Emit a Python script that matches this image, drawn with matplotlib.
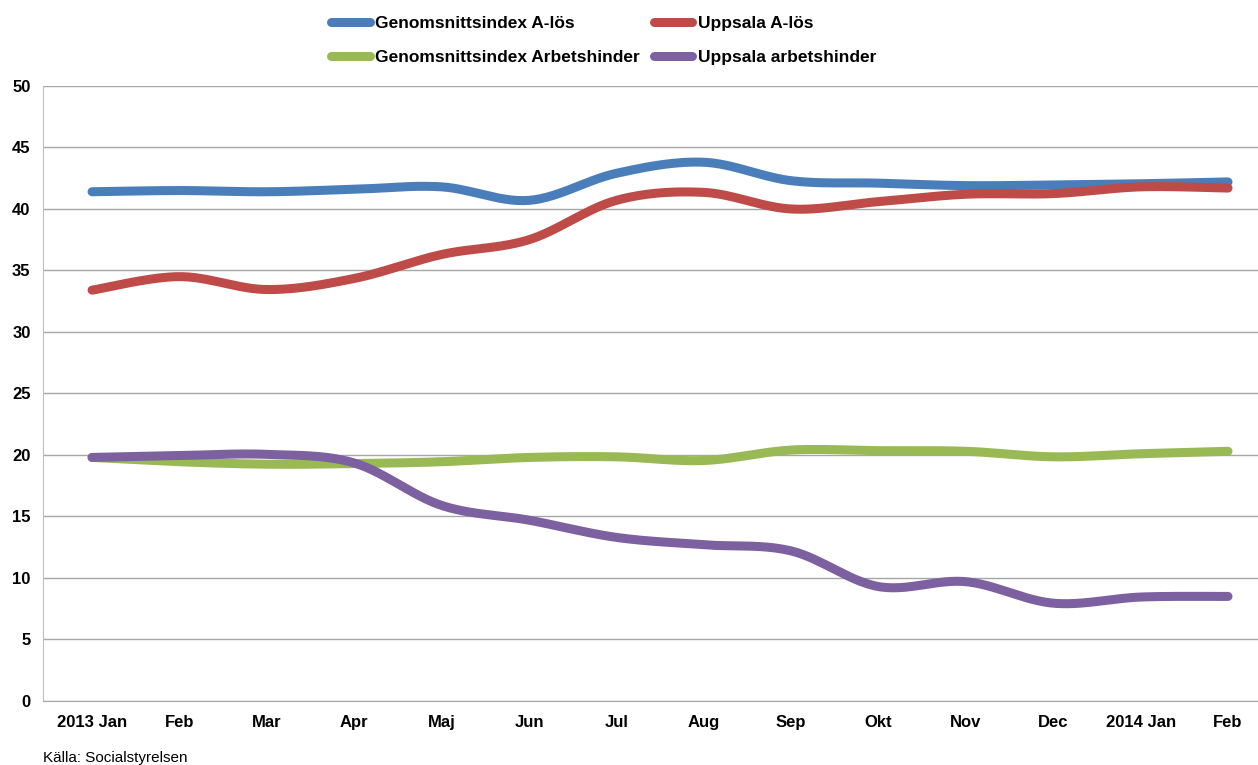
import numpy as np
import matplotlib

matplotlib.use("Agg")
import matplotlib.pyplot as plt
from matplotlib.lines import Line2D

plt.rcParams["font.family"] = ["Liberation Sans Narrow", "Liberation Sans", "DejaVu Sans"]

months = ["2013 Jan", "Feb", "Mar", "Apr", "Maj", "Jun", "Jul", "Aug",
          "Sep", "Okt", "Nov", "Dec", "2014 Jan", "Feb"]

snitt_alos = [41.4, 41.5, 41.4, 41.6, 41.8, 40.7, 42.9, 43.8, 42.3, 42.1, 41.9, 41.95, 42.05, 42.2]
uppsala_alos = [33.4, 34.5, 33.45, 34.35, 36.3, 37.5, 40.7, 41.35, 40.0, 40.6, 41.2, 41.25, 41.8, 41.7]
snitt_arb = [19.8, 19.45, 19.25, 19.3, 19.45, 19.8, 19.85, 19.55, 20.4, 20.35, 20.3, 19.85, 20.1, 20.3]
uppsala_arb = [19.8, 19.95, 20.05, 19.35, 15.9, 14.7, 13.3, 12.7, 12.2, 9.3, 9.7, 7.95, 8.45, 8.5]

series = [
    ("Genomsnittsindex A-lös", snitt_alos, "#4A7EBB"),
    ("Uppsala A-lös", uppsala_alos, "#BE4B48"),
    ("Genomsnittsindex Arbetshinder", snitt_arb, "#98B954"),
    ("Uppsala arbetshinder", uppsala_arb, "#7D60A0"),
]


def smooth(x, y, n=30):
    # Excel-style smoothed line: cubic Bezier with Catmull-Rom control points
    x = np.asarray(x, float)
    y = np.asarray(y, float)
    px = np.concatenate([[x[0]], x, [x[-1]]])
    py = np.concatenate([[y[0]], y, [y[-1]]])
    xs, ys = [], []
    t = np.linspace(0, 1, n)
    for i in range(len(x) - 1):
        p0 = np.array([px[i], py[i]])
        p1 = np.array([px[i + 1], py[i + 1]])
        p2 = np.array([px[i + 2], py[i + 2]])
        p3 = np.array([px[i + 3], py[i + 3]])
        c1 = p1 + (p2 - p0) / 6
        c2 = p2 - (p3 - p1) / 6
        b = (np.outer((1 - t) ** 3, p1) + np.outer(3 * (1 - t) ** 2 * t, c1)
             + np.outer(3 * (1 - t) * t ** 2, c2) + np.outer(t ** 3, p2))
        xs.extend(b[:, 0])
        ys.extend(b[:, 1])
    return xs, ys


fig = plt.figure(figsize=(12.58, 7.65), dpi=100)
ax = fig.add_axes([0.0342, 0.0837, 0.9658, 0.8039])

x = np.arange(len(months))
for label, vals, color in series:
    sx, sy = smooth(x, vals)
    ax.plot(sx, sy, color=color, lw=6.5, solid_capstyle="round", label=label)

ax.set_xlim(-0.561, 13.343)
ax.set_ylim(0, 50)
ax.set_yticks(np.arange(0, 51, 5))
ax.set_xticks(x)
ax.set_xticklabels(months, fontsize=12, fontweight="bold")
for t in ax.get_yticklabels():
    t.set_fontsize(12)
    t.set_fontweight("bold")
ax.tick_params(axis="both", length=0)
ax.tick_params(axis="x", pad=10)
ax.tick_params(axis="y", pad=9)
ax.grid(axis="y", color="#A6A6A6", lw=1)
ax.set_axisbelow(True)
for side in ["top", "right"]:
    ax.spines[side].set_visible(False)
ax.spines["left"].set_color("#BFBFBF")
ax.spines["bottom"].set_color("#A6A6A6")

# legend fills column-major, so order as blue, green, red, purple
order = [0, 2, 1, 3]
handles = [Line2D([0], [0], color=series[i][2], lw=6.5, solid_capstyle="round") for i in order]
labels = [series[i][0] for i in order]
fig.legend(handles, labels, ncol=2, loc="upper left",
           bbox_to_anchor=(0.251, 1.0), frameon=False, handlelength=2.2,
           handletextpad=0.3, columnspacing=0.85, labelspacing=1.1,
           prop={"size": 12.5, "weight": "bold"})

fig.text(0.034, 0.004, "Källa: Socialstyrelsen", fontsize=11)

fig.savefig("out.png", dpi=100)
